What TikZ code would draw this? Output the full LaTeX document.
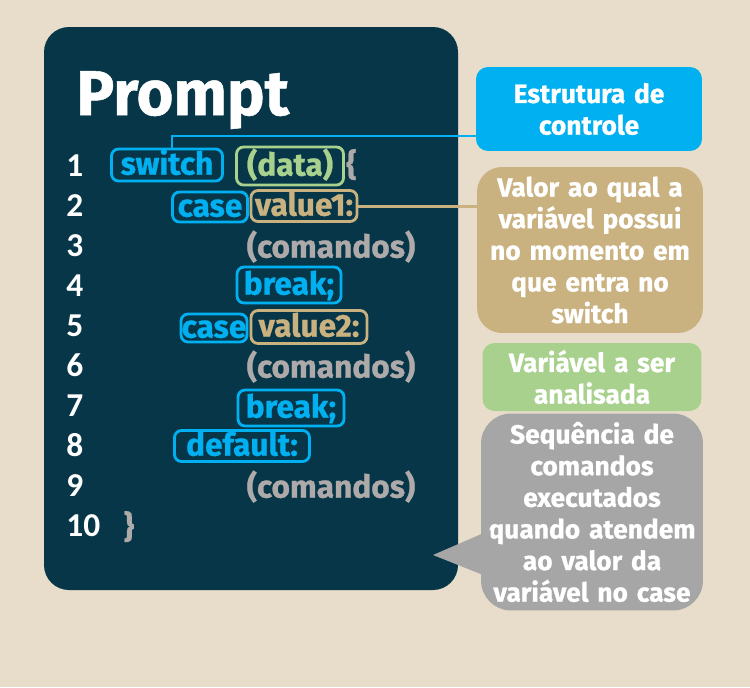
\documentclass[tikz,border=0pt]{standalone}
\usepackage{fontspec}
\setmainfont{Fira Sans}[BoldFeatures={FakeBold=0.8}]
\newfontfamily\numfont{Carlito}
\usetikzlibrary{positioning,calc}
\definecolor{pagebg}{RGB}{232,220,202}
\definecolor{panel}{RGB}{6,54,72}
\definecolor{kwblue}{RGB}{0,176,240}
\definecolor{vargreen}{RGB}{169,209,142}
\definecolor{valtan}{RGB}{201,178,128}
\definecolor{cmdgrey}{RGB}{174,170,170}
\definecolor{notegrey}{RGB}{166,166,166}
\tikzset{
    token/.style={
    rectangle,rounded corners=4pt,line width=1.6pt,inner sep=0pt,
    text height=13pt,text depth=2pt,font=\fontsize{18}{20}\selectfont\bfseries
    },
    kw/.style={
    token,draw=kwblue,text=kwblue
    },
    var/.style={
    token,draw=vargreen,text=vargreen
    },
    val/.style={
    token,draw=valtan,text=valtan
    },
    cmd/.style={
    token,text=cmdgrey
    },
    lnum/.style={
    anchor=mid west,inner sep=0pt,text=white,font=\numfont\fontsize{19}{20}\selectfont\bfseries
    },
    note/.style={
    rectangle,inner sep=0pt,text=white,align=center,text width=4.2cm,
    font=\fontsize{15}{18}\selectfont\bfseries
    },
}
\begin{document}
\begin{tikzpicture}[x=0.02cm,y=-0.02cm]
   \useasboundingbox (0,0) rectangle (750,687);
   \fill[pagebg] (0,0) rectangle (750,687);
   \fill[panel,rounded corners=0.5cm] (44,27) rectangle (458,590);

   \node[anchor=base west,inner sep=0pt,text=white,font=\fontsize{36}{40}\selectfont\bfseries] (title) at (76,115) {Prompt};
   \foreach \n in {1,...,10}
      \node[lnum] (L\n) at (66,{132+40*\n}) {\n};

   \node[kw,minimum width=2.22cm,minimum height=0.64cm] (sw) at (167,165) {switch};
   \node[var,minimum width=2.14cm,minimum height=0.76cm] (data) at (290,166) {(data)};
   \node[cmd,right=0pt of data] (ob) {\{};
   \node[kw,minimum width=1.5cm,minimum height=0.6cm] (case1) at (210,207) {case};
   \node[val,minimum width=2.12cm,minimum height=0.62cm] (val1) at (304,206) {value1:};
   \node[cmd] (com1) at (331,248) {(comandos)};
   \node[kw,minimum width=2.08cm,minimum height=0.72cm] (brk1) at (289,285) {break;};
   \node[kw,minimum width=1.32cm,minimum height=0.56cm] (case2) at (214,328) {case};
   \node[val,minimum width=2.32cm,minimum height=0.66cm] (val2) at (309,327) {value2:};
   \node[cmd] (com2) at (331,368) {(comandos)};
   \node[kw,minimum width=2.12cm,minimum height=0.72cm] (brk2) at (291,408) {break;};
   \node[kw,minimum width=2.7cm,minimum height=0.62cm] (dflt) at (242,446) {default:};
   \node[cmd] (com3) at (331,488) {(comandos)};
   \node[cmd] (cb) at (129,528) {\}};

   \node[note,fill=kwblue,rounded corners=0.24cm,minimum width=4.52cm,minimum height=1.68cm] (ctl) at (589,109) {Estrutura de\\controle};
   \node[note,fill=valtan,rounded corners=0.5cm,minimum width=4.52cm,minimum height=3.32cm] (tan) at (590,250) {Valor ao qual a\\variável possui\\no momento em\\que entra no\\switch};
   \node[note,fill=vargreen,rounded corners=0.24cm,minimum width=4.38cm,minimum height=1.36cm] (grn) at (592,377) {Variável a ser\\analisada};
   \node[note,fill=notegrey,rounded corners=0.6cm,minimum width=4.44cm,minimum height=3.94cm] (gry) at (592,512) {Sequência de\\comandos\\executados\\quando atendem\\ao valor da\\variável no case};
   \coordinate (tip) at (433,555);
   \fill[notegrey] ([xshift=0.2cm,yshift=-0.36cm]gry.west) -- (tip) -- ([xshift=0.2cm,yshift=-1.32cm]gry.west) -- cycle;

   \draw[kwblue,line width=1.7pt] ([xshift=0.1cm]sw.north) |- ([yshift=-0.54cm]ctl.west);
   \draw[valtan,line width=1.7pt] (val1.east) -- (val1.east -| tan.west);
\end{tikzpicture}
\end{document}
